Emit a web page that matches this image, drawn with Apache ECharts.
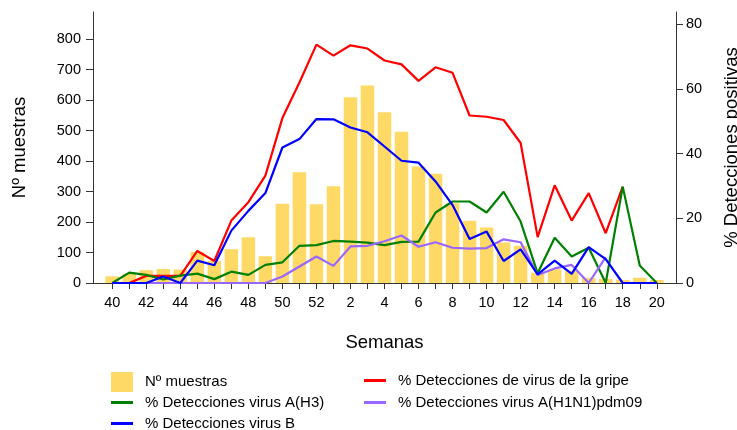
<!DOCTYPE html>
<html><head><meta charset="utf-8">
<script src="https://cdn.jsdelivr.net/npm/echarts@6/dist/echarts.min.js"></script>
<style>html,body{margin:0;padding:0;background:#fff}#c{width:737px;height:430px}</style>
</head><body><div id="c"></div>
<script>
// Semanas epidemiológicas
const weeks = ['40','41','42','43','44','45','46','47','48','49','50','51','52',
  '1','2','3','4','5','6','7','8','9','10','11','12','13','14','15','16','17','18','19','20'];
// Nº muestras (eje izquierdo)
const muestras = [22,30,42,46,44,102,72,111,150,88,260,363,258,
  317,609,648,560,496,382,358,262,204,182,133,122,34,45,40,17,13,10,17,10];
// % Detecciones de virus de la gripe
const gripe = [0,0,2.2,2.2,2.2,9.9,6.8,19.3,25.0,33.2,51.0,62.0,73.7,
  70.3,73.5,72.5,68.8,67.6,62.5,66.7,65.0,51.8,51.4,50.4,43.3,14.2,30.2,19.3,27.8,15.4,29.8,null,null];
// % Detecciones virus A(H3)
const h3 = [0,3.2,2.5,1.1,2.3,2.9,1.2,3.5,2.5,5.6,6.4,11.5,11.7,
  13.0,12.8,12.5,11.7,12.7,12.8,21.8,25.2,25.2,21.8,28.2,19.0,3.0,14.0,8.2,10.9,0,29.8,5.4,0];
// % Detecciones virus A(H1N1)pdm09
const h1n1 = [0,0,0,0,0,0,0,0,0,0,2.0,5.1,8.2,
  5.3,11.3,11.5,12.9,14.7,11.2,12.6,10.9,10.6,10.8,13.5,12.6,2.5,4.5,5.6,0,8.0,null,null,null];
// % Detecciones virus B
const virusB = [0,0,0,2.0,0,6.9,5.5,16.2,22.3,27.8,41.9,44.5,50.7,
  50.6,48.1,46.6,42.2,37.8,37.2,31.4,24.1,13.6,15.9,6.8,10.4,2.7,6.9,2.8,11.1,7.4,0,0,0];
// Ticks
const leftTicks = [0,100,200,300,400,500,600,700,800];
const rightTicks = [0,20,40,60,80];

const names = {
  bar: 'Nº muestras',
  gripe: '% Detecciones de virus de la gripe',
  h3: '% Detecciones virus A(H3)',
  h1: '% Detecciones virus A(H1N1)pdm09',
  b: '% Detecciones virus B'
};
const idx = weeks.map((_, i) => i);
const labelIdx = idx.filter(i => i % 2 === 0);
const pair = arr => arr.map((v, i) => [i, v]);
const FONT = '"Liberation Sans", Arial, sans-serif';
const AX = '#333';

const chart = echarts.init(document.getElementById('c'));
const lineSeries = (name, data, color) => ({
  type: 'line', name, data: pair(data), yAxisIndex: 1, symbol: 'none', z: 3,
  lineStyle: { color, width: 2.2 }, itemStyle: { color }, connectNulls: false
});
const legendItem = (name, left, top, isBar) => ({
  left, top, padding: 0, orient: 'horizontal', itemWidth: 22, itemHeight: isBar ? 20 : 3,
  icon: 'rect',
  textStyle: { fontSize: 15, color: '#000', fontFamily: FONT, padding: [0, 0, 0, 7] },
  data: [name]
});
chart.setOption({
  animation: false,
  textStyle: { fontFamily: FONT },
  grid: { left: 93, right: 61, top: 12, bottom: 147, containLabel: false, outerBoundsMode: 'none' },
  xAxis: {
    type: 'value', min: -1.13, max: 33.13,
    name: 'Semanas', nameLocation: 'middle', nameGap: 50,
    nameTextStyle: { fontSize: 18.5, color: '#000', fontFamily: FONT },
    axisLine: { show: true, onZero: false, lineStyle: { color: AX, width: 1 } },
    axisTick: { show: true, length: 6, customValues: idx, lineStyle: { color: AX, width: 1 } },
    axisLabel: { customValues: labelIdx, formatter: v => weeks[v], fontSize: 14.5, color: '#000', margin: 12, fontFamily: FONT },
    splitLine: { show: false }
  },
  yAxis: [
    {
      type: 'value', min: 0, max: 889, position: 'left',
      name: names.bar, nameLocation: 'middle', nameGap: 64,
      nameTextStyle: { fontSize: 18.5, color: '#000', fontFamily: FONT },
      axisLine: { show: true, onZero: false, lineStyle: { color: AX, width: 1 } },
      axisTick: { show: true, length: 7, customValues: leftTicks, lineStyle: { color: AX } },
      axisLabel: { customValues: leftTicks, fontSize: 14.5, color: '#000', margin: 12, fontFamily: FONT },
      splitLine: { show: false }
    },
    {
      type: 'value', min: 0, max: 83.8, position: 'right',
      name: '% Detecciones positivas', nameLocation: 'middle', nameGap: 46,
      nameTextStyle: { fontSize: 18.5, color: '#000', fontFamily: FONT },
      axisLine: { show: true, onZero: false, lineStyle: { color: AX, width: 1 } },
      axisTick: { show: true, length: 7, customValues: rightTicks, lineStyle: { color: AX } },
      axisLabel: { customValues: rightTicks, fontSize: 14.5, color: '#000', margin: 10, fontFamily: FONT },
      splitLine: { show: false }
    }
  ],
  legend: [
    legendItem(names.bar, 111, 372, true),
    legendItem(names.h3, 111, 395, false),
    legendItem(names.b, 111, 416, false),
    legendItem(names.gripe, 364, 373, false),
    legendItem(names.h1, 364, 395, false)
  ],
  series: [
    { type: 'bar', name: names.bar, data: pair(muestras), yAxisIndex: 0, barWidth: 13.5,
      itemStyle: { color: '#FFD966' } },
    lineSeries(names.gripe, gripe, '#FF0000'),
    lineSeries(names.h3, h3, '#008000'),
    lineSeries(names.h1, h1n1, '#9966FF'),
    lineSeries(names.b, virusB, '#0000FF')
  ]
});
</script></body></html>
